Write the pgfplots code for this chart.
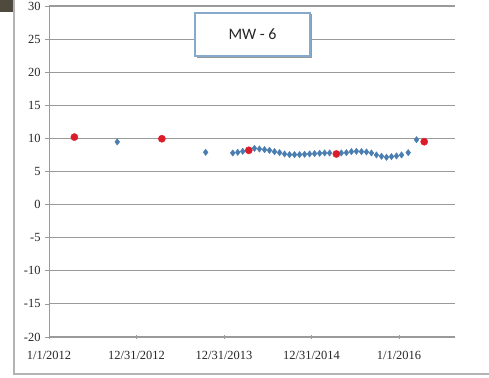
\documentclass[border=0pt]{standalone}
\usepackage{fontspec}
\setmainfont{Liberation Serif}
\newfontfamily\titlefont{Carlito}
\usepackage{pgfplots}
\pgfplotsset{compat=1.18}
\definecolor{wlblue}{HTML}{4A7EB0}
\definecolor{wlred}{HTML}{DD1C2A}
\definecolor{gridgray}{HTML}{9A9A9A}
\definecolor{framegray}{HTML}{B4B4B4}
\definecolor{cornerdark}{HTML}{4E4A3E}
\definecolor{boxblue}{HTML}{86AACB}

\begin{document}
\begin{tikzpicture}[x=1bp,y=1bp]
\path[use as bounding box] (0,0) rectangle (489,377);
% outer chart frame
\fill[cornerdark] (0,365) rectangle (14,377);
\draw[framegray, line width=2bp] (14,377) -- (14,3) -- (489,3);
\begin{axis}[
  at={(49bp,40bp)}, anchor=south west,
  scale only axis, width=406bp, height=331bp,
  xmin=2012, xmax=2016.64,
  ymin=-20, ymax=30,
  ytick={-20,-15,...,30},
  xtick={2012,2013,2014,2015,2016},
  xticklabels={1/1/2012,12/31/2012,12/31/2013,12/31/2014,1/1/2016},
  axis lines*=left,
  axis line style={-, gridgray, line width=1bp},
  ymajorgrids,
  major grid style={gridgray, line width=1.1bp},
  tick style={gridgray, line width=0.8bp},
  major tick length=4bp,
  ytick align=outside,
  xtick align=center,
  tick label style={font=\fontsize{12.5}{12.5}\selectfont, text=black!85},
  /pgf/number format/assume math mode=true,
  yticklabel style={xshift=-1bp},
  xticklabel style={yshift=-9bp},
  clip=false,
]
% monthly water level readings
\addplot[only marks, mark=diamond*, mark size=3.2bp, color=wlblue] coordinates {
  (2012.78,9.47) (2013.79,7.9)
  (2014.100,7.8) (2014.157,7.9) (2014.214,8.05)
  (2014.348,8.5) (2014.405,8.4) (2014.463,8.3) (2014.520,8.2)
  (2014.577,8.0) (2014.635,7.85) (2014.692,7.65) (2014.749,7.55)
  (2014.806,7.55) (2014.864,7.55) (2014.921,7.6) (2014.978,7.65)
  (2015.035,7.7) (2015.093,7.75) (2015.150,7.8) (2015.207,7.8)
  (2015.341,7.8) (2015.399,7.85) (2015.456,8.0) (2015.513,8.05)
  (2015.571,8.0) (2015.628,7.95) (2015.685,7.8) (2015.742,7.5)
  (2015.800,7.3) (2015.857,7.15) (2015.914,7.25) (2015.971,7.35)
  (2016.029,7.5) (2016.105,7.85) (2016.200,9.8)
};
% annual readings
\addplot[only marks, mark=*, mark size=3.6bp, color=wlred] coordinates {
  (2012.29,10.2) (2013.29,9.95) (2014.283,8.2) (2015.284,7.65) (2016.288,9.5)
};
\end{axis}
% title box
\fill[black!40] (196.5,319.5) rectangle (311.5,362.5);
\draw[boxblue, fill=white, line width=1.2bp] (195,321) rectangle (310,364);
\node[font=\titlefont\fontsize{16}{16}\selectfont, text=black!85] at (252.5,342.5) {MW - 6};
\end{tikzpicture}
\end{document}
